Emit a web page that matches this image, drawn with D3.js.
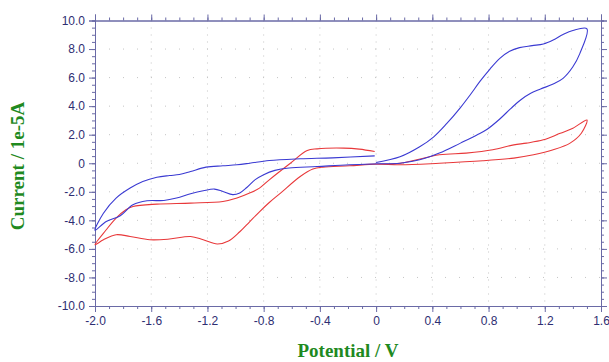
<!DOCTYPE html>
<html>
<head>
<meta charset="utf-8">
<script src="https://cdn.jsdelivr.net/npm/d3@7"></script>
<style>
  body { margin: 0; background: #fff; }
  svg { display: block; }
</style>
</head>
<body>
<svg id="cv" width="609" height="362"></svg>
<script>
// cyclic voltammograms, potential in V, current in 1e-5 A
// blue scan: 0 -> +1.5 -> 0 -> -2.0 -> 0
var blueV = [0.0, 0.17, 0.31, 0.41, 0.5, 0.6, 0.67, 0.74, 0.81, 0.88, 0.95, 1.02, 1.11, 1.19, 1.26, 1.33, 1.4, 1.5,
  1.45, 1.4, 1.33, 1.26, 1.17, 1.1, 1.03, 0.96, 0.88, 0.79, 0.72, 0.6, 0.45, 0.31, 0.17, 0.03,
  -0.19, -0.42, -0.62, -0.72, -0.8, -0.86, -0.92, -0.97, -1.02, -1.09, -1.15, -1.23, -1.32, -1.42, -1.51, -1.63, -1.73, -1.82, -1.92, -2.0,
  -1.94, -1.85, -1.75, -1.66, -1.56, -1.47, -1.4, -1.32, -1.21, -1.09, -0.99, -0.9, -0.76, -0.54, -0.31, -0.01];
var blueI = [0.05, 0.45, 1.15, 1.85, 2.75, 3.9, 4.8, 5.75, 6.6, 7.35, 7.85, 8.1, 8.24, 8.36, 8.64, 9.02, 9.3, 9.42,
  7.7, 6.76, 5.95, 5.55, 5.2, 4.9, 4.45, 3.85, 3.1, 2.38, 1.99, 1.41, 0.71, 0.24, 0.0, -0.04,
  -0.11, -0.23, -0.33, -0.5, -0.8, -1.15, -1.7, -2.08, -2.2, -1.98, -1.81, -1.93, -2.14, -2.44, -2.61, -2.63, -2.91, -3.68, -4.08, -4.7,
  -3.5, -2.44, -1.74, -1.28, -0.98, -0.86, -0.79, -0.58, -0.27, -0.18, -0.11, 0.0, 0.19, 0.31, 0.38, 0.52];

// red scan, same sweep
var redV = [0.0, 0.17, 0.45, 0.64, 0.83, 0.98, 1.07, 1.19, 1.31, 1.4, 1.5,
  1.46, 1.38, 1.26, 1.12, 0.98, 0.76, 0.45, 0.17, 0.0,
  -0.19, -0.38, -0.45, -0.54, -0.68, -0.76, -0.83, -0.9, -0.97, -1.05, -1.13, -1.23, -1.32, -1.47, -1.61, -1.75, -1.85, -1.94, -2.0,
  -1.92, -1.85, -1.78, -1.73, -1.56, -1.32, -1.09, -0.99, -0.9, -0.83, -0.76, -0.61, -0.49, -0.42, -0.23, -0.12, -0.01];
var redI = [-0.05, 0.0, 0.59, 0.71, 0.94, 1.29, 1.41, 1.64, 2.1, 2.45, 3.03,
  2.1, 1.41, 0.94, 0.59, 0.36, 0.17, 0.0, -0.11, -0.06,
  -0.18, -0.27, -0.41, -0.93, -2.09, -2.75, -3.4, -4.1, -4.8, -5.45, -5.66, -5.36, -5.13, -5.31, -5.36, -5.13, -5.01, -5.36, -5.71,
  -4.66, -3.84, -3.26, -3.03, -2.86, -2.79, -2.68, -2.44, -2.09, -1.74, -1.16, 0.0, 0.89, 1.01, 1.06, 0.99, 0.82];

var xTicks = [-2.0, -1.6, -1.2, -0.8, -0.4, 0, 0.4, 0.8, 1.2, 1.6];
var yTicks = [-10, -8, -6, -4, -2, 0, 2, 4, 6, 8, 10];

var svg = d3.select("#cv"),
    margin = {top: 20.5, right: 8, bottom: 56, left: 95},
    width = 601 - margin.left,
    height = 306 - margin.top,
    g = svg.append("g").attr("transform", "translate(" + margin.left + "," + margin.top + ")");

var axisColor = "#6a6aa6",
    labelColor = "#2e2e72",
    titleColor = "#1f8a1f";

var x = d3.scaleLinear().domain([-2.0, 1.6]).range([0, width]);
var y = d3.scaleLinear().domain([-10, 10]).range([height, 0]);

function fmt(d) { return d === 0 ? "0" : d.toFixed(1); }

var xMinor = d3.range(-20, 17).map(function(d) { return d / 10; });
var yMinor = d3.range(-20, 21).map(function(d) { return d / 2; });

// dotted grid
g.append("g").selectAll("line")
  .data(xTicks.slice(1, -1))
  .enter().append("line")
    .attr("x1", function(d) { return x(d); })
    .attr("x2", function(d) { return x(d); })
    .attr("y1", 0).attr("y2", height)
    .attr("stroke", "#c4c4c4")
    .attr("stroke-dasharray", "1,6");

g.append("g").selectAll("line")
  .data(yTicks.slice(1, -1))
  .enter().append("line")
    .attr("y1", function(d) { return y(d); })
    .attr("y2", function(d) { return y(d); })
    .attr("x1", 0).attr("x2", width)
    .attr("stroke", "#c4c4c4")
    .attr("stroke-dasharray", "1,13");

function styleAxis(sel) {
  sel.select(".domain").attr("stroke", axisColor);
  sel.selectAll(".tick line").attr("stroke", axisColor);
  sel.selectAll("text")
    .attr("fill", labelColor)
    .style("font-family", "Arial, 'Liberation Sans', sans-serif")
    .style("font-size", "12px");
}

// minor ticks first, then majors with labels
g.append("g").attr("transform", "translate(0," + height + ")")
  .call(d3.axisBottom(x).tickValues(xMinor).tickSize(3).tickFormat(""))
  .call(styleAxis);
g.append("g").attr("transform", "translate(0," + height + ")")
  .call(d3.axisBottom(x).tickValues(xTicks).tickSize(6).tickPadding(4).tickFormat(fmt))
  .call(styleAxis);

g.append("g")
  .call(d3.axisTop(x).tickValues(xMinor).tickSize(3).tickFormat(""))
  .call(styleAxis);
g.append("g")
  .call(d3.axisTop(x).tickValues(xTicks).tickSize(6).tickFormat(""))
  .call(styleAxis);

g.append("g")
  .call(d3.axisLeft(y).tickValues(yMinor).tickSize(3).tickFormat(""))
  .call(styleAxis);
g.append("g")
  .call(d3.axisLeft(y).tickValues(yTicks).tickSize(6).tickPadding(4).tickFormat(fmt))
  .call(styleAxis);

g.append("g").attr("transform", "translate(" + width + ",0)")
  .call(d3.axisRight(y).tickValues(yMinor).tickSize(3).tickFormat(""))
  .call(styleAxis);
g.append("g").attr("transform", "translate(" + width + ",0)")
  .call(d3.axisRight(y).tickValues(yTicks).tickSize(6).tickFormat(""))
  .call(styleAxis);

// curves
var line = d3.line()
    .x(function(d) { return x(d[0]); })
    .y(function(d) { return y(d[1]); })
    .curve(d3.curveCatmullRom.alpha(0.5));

var red = d3.zip(redV, redI),
    blue = d3.zip(blueV, blueI);

g.append("path")
    .datum(red)
    .attr("fill", "none")
    .attr("stroke", "#e8383a")
    .attr("stroke-width", 1.1)
    .attr("d", line);

g.append("path")
    .datum(blue)
    .attr("fill", "none")
    .attr("stroke", "#3a3ad2")
    .attr("stroke-width", 1.1)
    .attr("d", line);

// axis titles
svg.append("text")
    .attr("x", margin.left + width / 2)
    .attr("y", 357)
    .attr("text-anchor", "middle")
    .attr("fill", titleColor)
    .style("font-family", "'Liberation Serif', 'Times New Roman', serif")
    .style("font-weight", "bold")
    .style("font-size", "19px")
    .text("Potential / V");

svg.append("text")
    .attr("transform", "translate(24,166) rotate(-90)")
    .attr("text-anchor", "middle")
    .attr("fill", titleColor)
    .style("font-family", "'Liberation Serif', 'Times New Roman', serif")
    .style("font-weight", "bold")
    .style("font-size", "19px")
    .text("Current / 1e-5A");
</script>
</body>
</html>
